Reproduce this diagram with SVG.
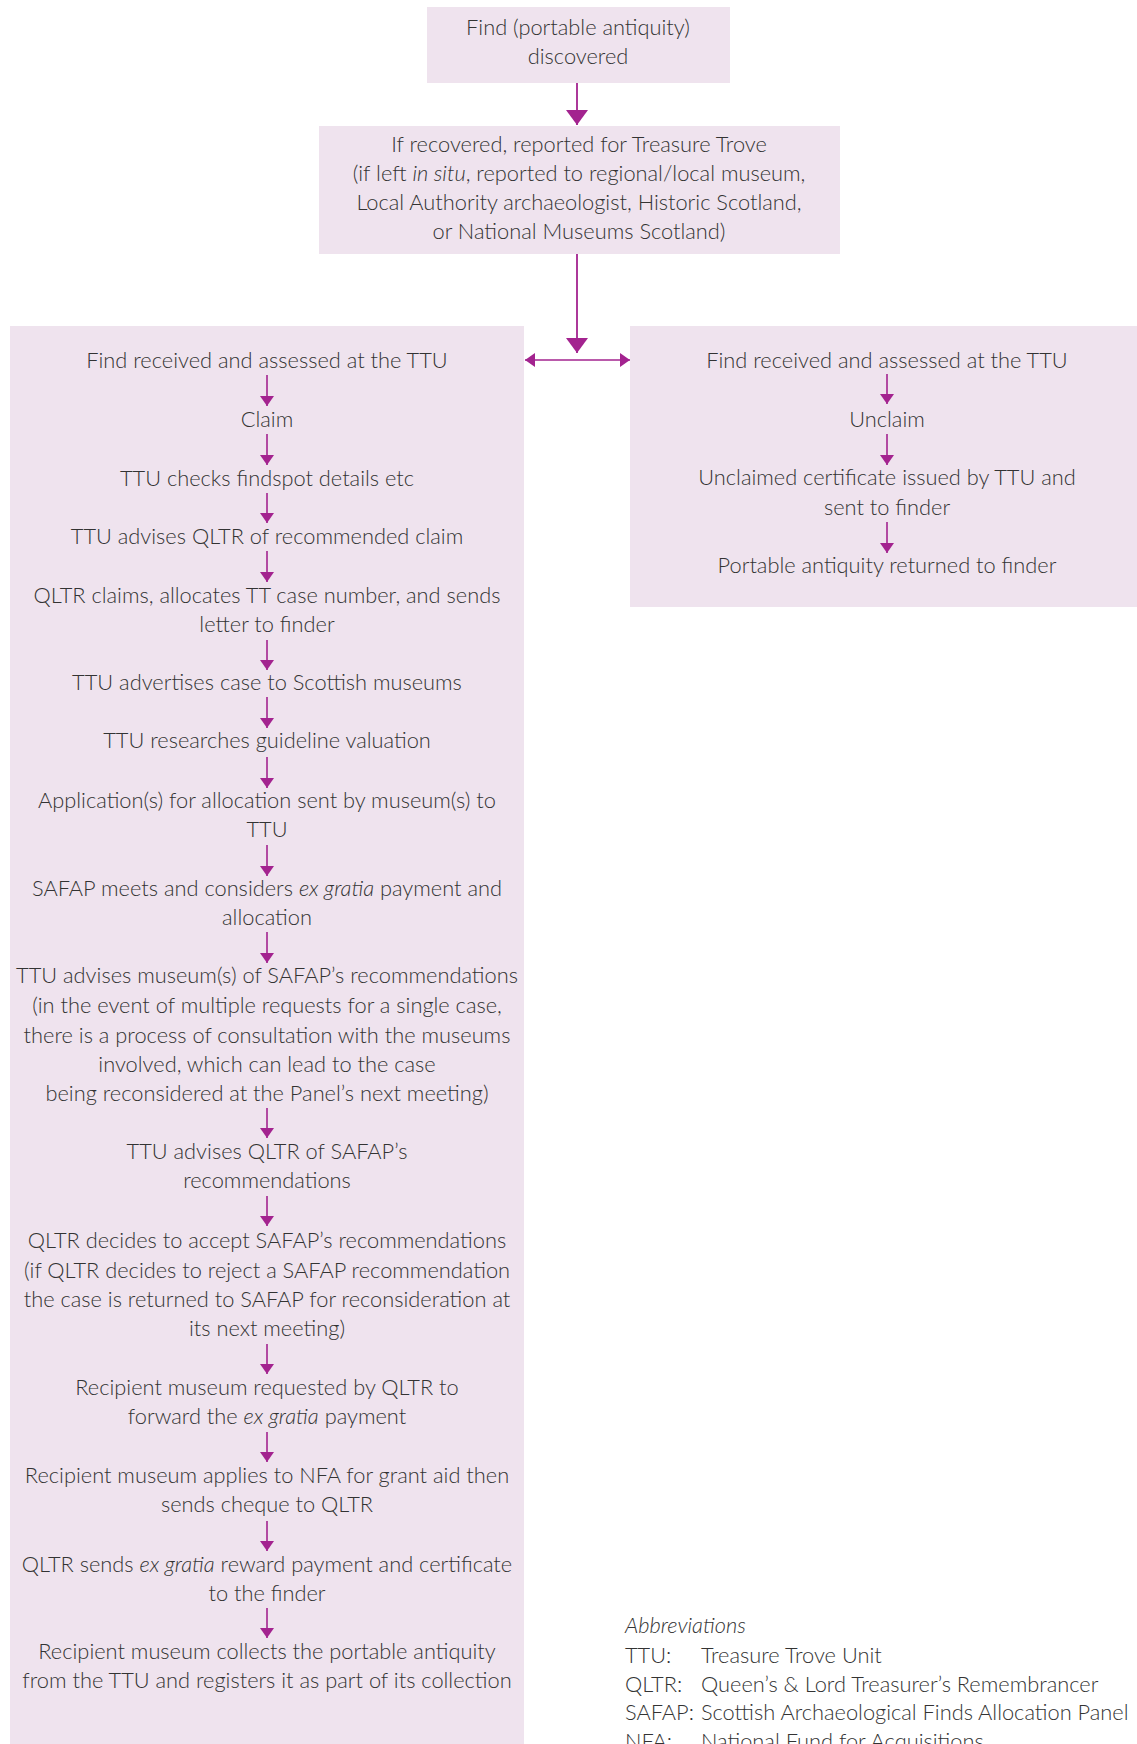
<svg xmlns="http://www.w3.org/2000/svg" width="1137" height="1744" viewBox="0 0 1137 1744">
<style>
.box{fill:#efe3ee}
.t{font-family:Lato,"Liberation Sans",Arial,sans-serif;font-weight:300;font-size:21.8px;fill:#333;text-anchor:middle}
.s{font-family:Lato,"Liberation Sans",Arial,sans-serif;font-weight:300;font-size:21.8px;fill:#333;text-anchor:start}
.i{font-style:italic}
.c{stroke:#a3238f;stroke-width:1.6;fill:none}
.cb{stroke:#a3238f;stroke-width:1.8;fill:none}
</style>
<defs>
<marker id="ah" viewBox="0 0 10 14" refX="10" refY="7" markerWidth="10" markerHeight="14" markerUnits="userSpaceOnUse" orient="auto-start-reverse"><path d="M0,0L10,7L0,14z" fill="#a3238f"/></marker>
<marker id="ahB" viewBox="0 0 15 22" refX="15" refY="11" markerWidth="15" markerHeight="22" markerUnits="userSpaceOnUse" orient="auto"><path d="M0,0L15,11L0,22z" fill="#a3238f"/></marker>
</defs>
<rect width="1137" height="1744" fill="#fff"/>

<g id="find">
<rect class="box" x="427" y="7" width="303" height="76"/>
<text class="t" x="578" y="35">Find (portable antiquity)</text>
<text class="t" x="578" y="64">discovered</text>
</g>

<g id="reported">
<rect class="box" x="319" y="126" width="521" height="128"/>
<text class="t" x="579" y="152">If recovered, reported for Treasure Trove</text>
<text class="t" x="579" y="181">(if left <tspan class="i">in situ</tspan>, reported to regional/local museum,</text>
<text class="t" x="579" y="210">Local Authority archaeologist, Historic Scotland,</text>
<text class="t" x="579" y="239">or National Museums Scotland)</text>
</g>

<g id="claim-panel">
<rect class="box" x="10" y="326" width="514" height="1418"/>
</g>
<g id="unclaim-panel">
<rect class="box" x="630" y="326" width="507" height="281"/>
</g>

<g id="claim-steps">
<g id="c1"><text class="t" x="267" y="368">Find received and assessed at the TTU</text></g>
<g id="c2"><text class="t" x="267" y="427">Claim</text></g>
<g id="c3"><text class="t" x="267" y="486">TTU checks findspot details etc</text></g>
<g id="c4"><text class="t" x="267" y="544">TTU advises QLTR of recommended claim</text></g>
<g id="c5"><text class="t" x="267" y="603">QLTR claims, allocates TT case number, and sends</text>
<text class="t" x="267" y="632">letter to finder</text></g>
<g id="c6"><text class="t" x="267" y="690">TTU advertises case to Scottish museums</text></g>
<g id="c7"><text class="t" x="267" y="748">TTU researches guideline valuation</text></g>
<g id="c8"><text class="t" x="267" y="808">Application(s) for allocation sent by museum(s) to</text>
<text class="t" x="267" y="837">TTU</text></g>
<g id="c9"><text class="t" x="267" y="896">SAFAP meets and considers <tspan class="i">ex gratia</tspan> payment and</text>
<text class="t" x="267" y="925">allocation</text></g>
<g id="c10"><text class="t" x="267" y="983">TTU advises museum(s) of SAFAP’s recommendations</text>
<text class="t" x="267" y="1013">(in the event of multiple requests for a single case,</text>
<text class="t" x="267" y="1043">there is a process of consultation with the museums</text>
<text class="t" x="267" y="1072">involved, which can lead to the case</text>
<text class="t" x="267" y="1101">being reconsidered at the Panel’s next meeting)</text></g>
<g id="c11"><text class="t" x="267" y="1159">TTU advises QLTR of SAFAP’s</text>
<text class="t" x="267" y="1188">recommendations</text></g>
<g id="c12"><text class="t" x="267" y="1248">QLTR decides to accept SAFAP’s recommendations</text>
<text class="t" x="267" y="1278">(if QLTR decides to reject a SAFAP recommendation</text>
<text class="t" x="267" y="1307">the case is returned to SAFAP for reconsideration at</text>
<text class="t" x="267" y="1336">its next meeting)</text></g>
<g id="c13"><text class="t" x="267" y="1395">Recipient museum requested by QLTR to</text>
<text class="t" x="267" y="1424">forward the <tspan class="i">ex gratia</tspan> payment</text></g>
<g id="c14"><text class="t" x="267" y="1483">Recipient museum applies to NFA for grant aid then</text>
<text class="t" x="267" y="1512">sends cheque to QLTR</text></g>
<g id="c15"><text class="t" x="267" y="1572">QLTR sends <tspan class="i">ex gratia</tspan> reward payment and certificate</text>
<text class="t" x="267" y="1601">to the finder</text></g>
<g id="c16"><text class="t" x="267" y="1659">Recipient museum collects the portable antiquity</text>
<text class="t" x="267" y="1688">from the TTU and registers it as part of its collection</text></g>
</g>

<g id="unclaim-steps">
<g id="u1"><text class="t" x="887" y="368">Find received and assessed at the TTU</text></g>
<g id="u2"><text class="t" x="887" y="427">Unclaim</text></g>
<g id="u3"><text class="t" x="887" y="485">Unclaimed certificate issued by TTU and</text>
<text class="t" x="887" y="515">sent to finder</text></g>
<g id="u4"><text class="t" x="887" y="573">Portable antiquity returned to finder</text></g>
</g>

<g id="abbreviations">
<text class="s i" x="625" y="1633">Abbreviations</text>
<text class="s" x="625" y="1663">TTU:</text><text class="s" x="701" y="1663">Treasure Trove Unit</text>
<text class="s" x="625" y="1692">QLTR:</text><text class="s" x="701" y="1692">Queen’s &amp; Lord Treasurer’s Remembrancer</text>
<text class="s" x="625" y="1720">SAFAP:</text><text class="s" x="701" y="1720">Scottish Archaeological Finds Allocation Panel</text>
<text class="s" x="625" y="1749">NFA:</text><text class="s" x="701" y="1749">National Fund for Acquisitions</text>
</g>

<g id="connectors">
<line class="cb" x1="577" y1="83" x2="577" y2="125" marker-end="url(#ahB)"/>
<line class="cb" x1="577" y1="254" x2="577" y2="353" marker-end="url(#ahB)"/>
<line class="c" x1="525" y1="360" x2="630" y2="360" marker-start="url(#ah)" marker-end="url(#ah)"/>
<line class="c" x1="267" y1="375" x2="267" y2="406" marker-end="url(#ah)"/>
<line class="c" x1="267" y1="434" x2="267" y2="465" marker-end="url(#ah)"/>
<line class="c" x1="267" y1="493" x2="267" y2="523" marker-end="url(#ah)"/>
<line class="c" x1="267" y1="551" x2="267" y2="582" marker-end="url(#ah)"/>
<line class="c" x1="267" y1="640" x2="267" y2="670" marker-end="url(#ah)"/>
<line class="c" x1="267" y1="697" x2="267" y2="728" marker-end="url(#ah)"/>
<line class="c" x1="267" y1="757" x2="267" y2="788" marker-end="url(#ah)"/>
<line class="c" x1="267" y1="845" x2="267" y2="876" marker-end="url(#ah)"/>
<line class="c" x1="267" y1="932" x2="267" y2="963" marker-end="url(#ah)"/>
<line class="c" x1="267" y1="1108" x2="267" y2="1138" marker-end="url(#ah)"/>
<line class="c" x1="267" y1="1196" x2="267" y2="1226" marker-end="url(#ah)"/>
<line class="c" x1="267" y1="1344" x2="267" y2="1374" marker-end="url(#ah)"/>
<line class="c" x1="267" y1="1432" x2="267" y2="1462" marker-end="url(#ah)"/>
<line class="c" x1="267" y1="1521" x2="267" y2="1551" marker-end="url(#ah)"/>
<line class="c" x1="267" y1="1608" x2="267" y2="1638" marker-end="url(#ah)"/>
<line class="c" x1="887" y1="374" x2="887" y2="404" marker-end="url(#ah)"/>
<line class="c" x1="887" y1="434" x2="887" y2="465" marker-end="url(#ah)"/>
<line class="c" x1="887" y1="522" x2="887" y2="553" marker-end="url(#ah)"/>
</g>
</svg>
